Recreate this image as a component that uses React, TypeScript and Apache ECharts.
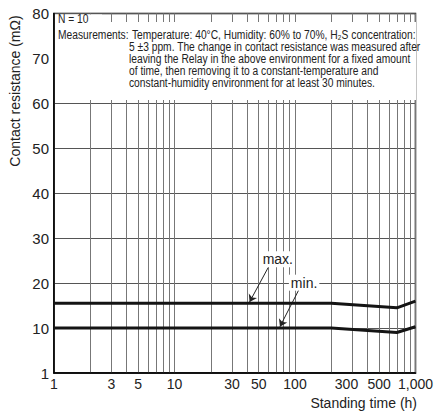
import React, { useEffect, useRef } from "react";
import * as echarts from "echarts";

const hours = [1, 200, 700, 1000];
const maxValues = [15.5, 15.5, 14.5, 16];
const minValues = [10, 10, 9, 10.3];

const xGridValues = [
  1, 2, 3, 4, 5, 6, 7, 8, 9,
  10, 20, 30, 40, 50, 60, 70, 80, 90,
  100, 200, 300, 400, 500, 600, 700, 800, 900, 1000,
];
const xLabelValues = [1, 3, 5, 10, 30, 50, 100, 300, 500, 1000];

const noteTitle = "N = 10";
const noteHead = "Measurements:";
const noteLines = [
  "Temperature: 40°C, Humidity: 60% to 70%, H₂S concentration:",
  "5 ±3 ppm. The change in contact resistance was measured after",
  "leaving the Relay in the above environment for a fixed amount",
  "of time, then removing it to a constant-temperature and",
  "constant-humidity environment for at least 30 minutes.",
];

const yName = "Contact resistance (mΩ)";
const xName = "Standing time (h)";

// annotation anchors (data coordinates)
const maxLabel = { coord: [72, 25.3], text: "max." };
const maxArrow = [[60, 23.5], [42, 15.8]];
const minLabel = { coord: [119, 20.1], text: "min." };
const minArrow = [[108, 18.6], [75, 10.3]];

const FONT = "'Liberation Sans', Arial, sans-serif";
const NOTE_SCALE = 0.82;

export default function App() {
  const ref = useRef<HTMLDivElement>(null);
  useEffect(() => {
    if (!ref.current) return;
    const chart = echarts.init(ref.current, undefined, { renderer: "svg" });

    const noteText = (t: string, x: number, y: number) => ({
      type: "text", z: 51, x, y, scaleX: NOTE_SCALE,
      style: { text: t, font: `12.5px ${FONT}`, fill: "#222", verticalAlign: "middle" },
    });

    const graphics: any[] = [
      { type: "rect", z: 50, shape: { x: 55, y: 14.5, width: 47, height: 8 }, style: { fill: "#fff" } },
      { type: "rect", z: 50, shape: { x: 55, y: 22, width: 361, height: 78 }, style: { fill: "#fff" } },
      noteText(noteTitle, 58, 19),
      noteText(noteHead, 58, 35),
      ...noteLines.map((t, i) => noteText(t, i === 0 ? 132 : 129, 35 + i * 12)),
      {
        type: "text", z: 51, x: 15, y: 91, rotation: Math.PI / 2,
        style: { text: yName, font: `14px ${FONT}`, fill: "#222", align: "center", verticalAlign: "middle" },
      },
      {
        type: "text", z: 51, x: 417, y: 403,
        style: { text: xName, font: `14px ${FONT}`, fill: "#222", align: "right", verticalAlign: "middle" },
      },
    ];

    const mkSeries = (name: string, vals: number[], label: any, arrow: number[][]) => ({
      name,
      type: "line",
      data: hours.map((h, i) => [h, vals[i]]),
      symbol: "none",
      lineStyle: { color: "#141414", width: 3 },
      z: 5,
      silent: true,
      markLine: {
        silent: true,
        symbol: ["none", "arrow"],
        symbolSize: 7,
        label: { show: false },
        lineStyle: { color: "#222", width: 1, type: "solid" },
        emphasis: { disabled: true },
        data: [[{ coord: arrow[0] }, { coord: arrow[1] }]],
      },
      markPoint: {
        silent: true,
        symbol: "rect",
        symbolSize: 0,
        label: {
          show: true,
          formatter: label.text,
          backgroundColor: "#fff",
          padding: [1, 2],
          fontFamily: FONT,
          fontSize: 14,
          color: "#222",
        },
        data: [{ coord: label.coord }],
      },
    });

    chart.setOption({
      animation: false,
      grid: {
        left: 54, right: 19, top: 13.5, bottom: 43,
        show: true, borderColor: "#000", borderWidth: 1.5,
      },
      xAxis: {
        type: "log",
        logBase: 10,
        min: 1,
        max: 1000,
        axisLine: { lineStyle: { color: "#000", width: 1.5 } },
        axisTick: { show: false, customValues: xGridValues },
        splitLine: { show: true, lineStyle: { color: "#777", width: 1 } },
        axisLabel: {
          customValues: xLabelValues,
          formatter: (v: number) =>
            v >= 1000 ? v.toLocaleString("en-US") : v === 300 ? `{s|${v}}` : String(v),
          rich: { s: { padding: [0, 12, 0, 0], fontFamily: FONT, fontSize: 14, color: "#222" } },
          fontFamily: FONT,
          fontSize: 14,
          color: "#222",
          margin: 4,
          showMinLabel: true,
          showMaxLabel: true,
          hideOverlap: false,
        },
      },
      yAxis: {
        type: "value",
        min: 0,
        max: 80,
        interval: 10,
        axisLine: { show: true, lineStyle: { color: "#000", width: 1.5 } },
        axisTick: { show: false },
        splitLine: { show: true, lineStyle: { color: "#555", width: 1 } },
        axisLabel: {
          formatter: (v: number) => (v === 0 ? "1" : String(v)),
          fontFamily: FONT,
          fontSize: 15,
          color: "#222",
          margin: 5,
        },
      },
      series: [
        mkSeries("max.", maxValues, maxLabel, maxArrow),
        mkSeries("min.", minValues, minLabel, minArrow),
      ],
      graphic: graphics,
    });
    return () => chart.dispose();
  }, []);
  return <div ref={ref} style={{ width: 436, height: 416, position: "absolute", left: 0, top: 0 }} />;
}
